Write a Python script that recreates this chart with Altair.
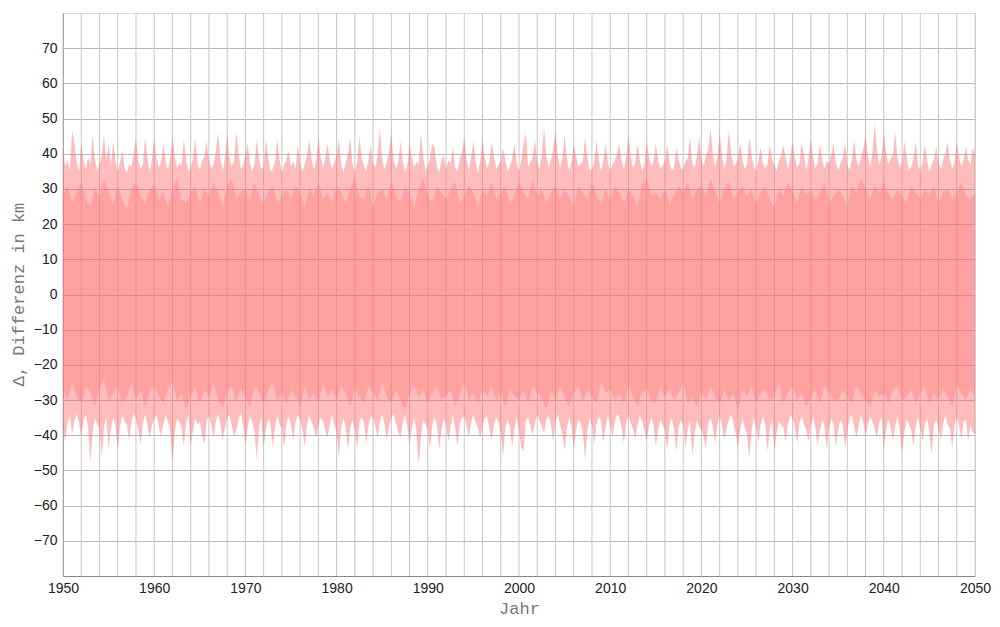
import altair as alt
import pandas as pd

START_YEAR = 1950
STEP = 0.25
INNER_STEP = 0.5

# Upper envelope of the curve (km), read per quarter year, one row per 5 years 1950..2049, then 2050
upper = [
    41.6, 36.5, 38.2, 35.0,  46.7, 43.0, 37.5, 34.8,  43.3, 38.0, 35.5, 39.0,  36.8, 45.2, 38.5, 35.2,  37.0, 39.5, 45.2, 37.8,
    43.0, 36.5, 43.5, 38.0,  35.0, 37.5, 40.7, 36.0,  34.5, 37.0, 36.2, 40.0,  44.5, 38.0, 35.5, 37.0,  44.5, 39.0, 34.8, 38.2,
    44.5, 38.6, 36.0, 37.5,  43.0, 37.8, 35.3, 38.8,  45.0, 39.2, 35.8, 37.4,  36.6, 44.3, 38.0, 35.0,  36.0, 38.4, 44.3, 37.2,
    35.4, 37.8, 39.0, 43.7,  38.2, 35.9, 37.0, 40.5,  45.9, 39.0, 35.2, 38.5,  45.6, 38.8, 36.4, 37.8,  46.2, 40.0, 35.6, 36.8,
    39.5, 43.0, 37.4, 34.9,  37.0, 44.3, 38.2, 35.5,  36.4, 44.3, 39.0, 34.8,  35.8, 37.6, 44.0, 38.1,  34.6, 37.0, 38.4, 40.7,
    36.2, 38.0, 35.5, 42.6,  37.4, 35.0, 36.8, 39.5,  44.3, 38.6, 35.4, 37.9,  44.3, 39.2, 36.0, 38.3,  42.8, 38.0, 35.5, 37.5,
    39.6, 44.0, 37.2, 34.7,  37.5, 40.0, 44.3, 37.0,  35.2, 37.4, 45.0, 38.8,  36.4, 35.0, 38.6, 42.4,  37.2, 36.1, 39.5, 47.3,
    38.0, 35.4, 37.7, 40.2,  45.9, 38.4, 35.8, 37.2,  43.7, 37.8, 35.0, 36.9,  42.8, 38.9, 36.2, 37.6,  37.0, 45.6, 39.0, 35.2,
    36.5, 38.8, 43.0, 41.6,  36.0, 34.8, 38.2, 39.5,  35.6, 38.0, 37.4, 41.8,  36.2, 34.9, 38.5, 40.3,  44.7, 38.2, 35.3, 38.9,
    43.7, 37.6, 34.6, 38.0,  44.0, 38.7, 36.0, 37.3,  43.3, 39.4, 35.5, 36.8,  37.9, 41.6, 38.3, 35.1,  36.4, 38.6, 43.0, 37.0,
    35.0, 38.2, 42.8, 45.9,  36.2, 37.5, 39.0, 44.0,  37.8, 35.5, 39.6, 47.5,  39.4, 36.0, 38.2, 41.0,  46.6, 39.5, 36.1, 38.5,
    45.4, 38.8, 35.0, 37.6,  42.6, 39.3, 36.4, 37.1,  38.0, 44.7, 38.6, 35.3,  35.8, 37.5, 43.7, 38.3,  34.9, 38.1, 43.0, 37.5,
    35.4, 36.8, 38.0, 40.1,  42.6, 38.0, 35.6, 38.8,  45.4, 39.2, 36.0, 37.4,  43.0, 38.3, 35.1, 37.0,  43.5, 39.0, 36.5, 37.6,
    42.8, 38.4, 35.8, 36.6,  38.0, 42.6, 37.7, 35.2,  36.1, 41.6, 38.5, 35.9,  35.6, 37.9, 38.6, 45.0,  37.1, 36.0, 39.0, 45.2,
    38.5, 36.4, 39.5, 41.0,  47.3, 40.0, 36.2, 38.9,  46.2, 39.6, 35.7, 38.1,  46.6, 40.4, 36.6, 37.0,  38.2, 43.3, 38.0, 35.5,
    37.0, 44.7, 39.5, 36.0,  35.3, 38.0, 41.8, 37.2,  35.9, 37.1, 42.8, 38.4,  36.6, 35.2, 38.0, 39.4,  42.4, 38.5, 35.4, 39.0,
    43.5, 38.8, 36.0, 37.2,  43.3, 39.4, 35.2, 38.7,  44.3, 38.9, 35.9, 37.4,  42.8, 38.1, 35.6, 37.9,  37.3, 39.8, 43.0, 37.5,
    35.0, 37.4, 38.8, 43.0,  36.8, 35.4, 38.2, 44.0,  38.4, 36.2, 39.0, 41.2,  45.4, 39.7, 36.0, 40.2,  48.5, 41.0, 36.8, 39.4,
    45.9, 40.6, 37.0, 38.5,  39.8, 46.4, 38.8, 35.9,  37.6, 43.5, 39.2, 35.4,  36.3, 38.4, 43.5, 37.0,  35.2, 37.8, 42.6, 38.0,
    34.8, 36.9, 38.5, 42.0,  37.5, 35.6, 38.3, 40.0,  43.3, 38.1, 35.8, 37.4,  43.7, 39.0, 36.4, 38.2,  42.0, 38.4, 36.9, 41.8,
    39.5,
]

# Lower envelope of the curve (km), per quarter year
lower = [
    -38.5, -41.8, -36.2, -34.5,  -39.7, -35.8, -33.9, -36.4,  -40.4, -36.0, -34.2, -37.5,  -47.9, -39.0, -35.0, -36.8,  -38.2, -46.3, -37.5, -34.6,
    -43.7, -38.0, -35.1, -37.2,  -43.9, -37.6, -34.3, -36.0,  -37.0, -41.3, -36.5, -33.8,  -35.5, -38.4, -42.5, -36.6,  -34.2, -36.9, -40.8, -37.1,
    -35.6, -34.1, -37.3, -40.4,  -36.8, -34.4, -35.9, -38.6,  -47.9, -39.2, -35.3, -36.1,  -37.8, -43.2, -36.7, -34.0,  -43.5, -38.5, -35.2, -36.9,
    -36.3, -39.8, -42.7, -35.7,  -34.6, -37.0, -40.8, -36.2,  -33.9, -36.5, -41.3, -38.0,  -35.0, -34.2, -37.1, -40.4,  -38.5, -35.6, -33.8, -37.0,
    -42.7, -37.9, -34.5, -36.3,  -39.0, -47.0, -37.2, -35.0,  -43.5, -38.3, -35.4, -36.6,  -43.7, -37.7, -34.6, -36.8,  -38.1, -43.5, -36.4, -34.9,
    -37.0, -41.3, -36.0, -34.1,  -35.8, -38.2, -43.2, -37.0,  -34.4, -36.2, -37.8, -40.8,  -37.2, -34.9, -36.0, -38.5,  -40.8, -37.0, -34.3, -36.9,
    -39.4, -46.3, -37.8, -35.2,  -37.6, -44.2, -38.0, -35.6,  -38.8, -43.9, -36.4, -34.8,  -36.2, -42.3, -37.0, -34.5,  -35.3, -37.4, -40.8, -36.0,
    -34.0, -36.8, -41.3, -37.3,  -35.1, -33.9, -36.5, -38.9,  -40.8, -36.6, -34.4, -37.4,  -42.7, -37.9, -35.0, -38.6,  -48.6, -40.2, -35.7, -37.0,
    -38.5, -43.7, -37.0, -34.8,  -37.1, -43.9, -38.3, -35.3,  -36.7, -41.8, -37.5, -34.2,  -38.0, -43.2, -36.9, -35.0,  -34.7, -37.2, -40.8, -36.3,
    -34.1, -36.5, -38.0, -40.8,  -37.4, -35.1, -34.6, -37.8,  -41.3, -37.0, -34.9, -36.2,  -39.3, -46.0, -37.8, -35.4,  -37.6, -43.2, -38.0, -34.8,
    -38.9, -43.5, -44.6, -36.0,  -34.7, -37.2, -40.0, -36.5,  -34.0, -35.8, -37.4, -39.5,  -35.5, -34.6, -37.0, -41.8,  -36.2, -34.0, -37.0, -39.6,
    -44.2, -38.0, -35.1, -37.3,  -43.7, -38.6, -35.5, -36.4,  -39.0, -47.0, -38.4, -35.2,  -37.5, -42.5, -37.0, -34.6,  -36.0, -41.8, -37.6, -34.3,
    -37.1, -40.4, -36.4, -33.9,  -35.0, -37.8, -42.3, -36.8,  -34.2, -36.6, -38.2, -40.8,  -36.9, -34.5, -36.0, -38.4,  -41.8, -37.4, -34.8, -36.9,
    -43.2, -38.5, -35.6, -37.0,  -38.6, -44.2, -37.4, -35.1,  -38.0, -44.4, -37.9, -35.7,  -37.3, -43.7, -38.2, -36.0,  -46.0, -39.4, -35.8, -37.6,
    -38.4, -40.6, -43.7, -36.7,  -35.0, -37.6, -42.3, -37.1,  -34.6, -36.8, -41.3, -38.0,  -35.8, -34.0, -36.6, -39.5,  -43.7, -38.3, -35.4, -37.8,
    -39.6, -46.5, -38.5, -35.3,  -38.0, -41.8, -36.8, -34.7,  -37.0, -44.6, -38.1, -35.5,  -44.4, -39.3, -36.0, -37.1,  -37.8, -41.8, -36.7, -34.2,
    -35.4, -37.9, -42.3, -36.5,  -34.7, -36.9, -38.6, -41.8,  -37.2, -35.0, -38.1, -42.7,  -38.5, -35.6, -37.4, -44.2,  -37.8, -35.3, -36.9, -43.2,
    -38.4, -35.7, -37.0, -43.7,  -39.2, -35.0, -34.4, -37.6,  -40.8, -36.9, -34.3, -36.5,  -40.4, -37.0, -34.6, -36.1,  -38.2, -40.7, -36.4, -34.9,
    -43.7, -38.5, -35.5, -37.7,  -41.8, -37.3, -34.6, -38.4,  -45.1, -39.2, -35.4, -36.8,  -38.4, -43.2, -37.1, -34.8,  -37.9, -41.8, -37.0, -35.3,
    -39.1, -45.6, -37.0, -35.6,  -38.2, -41.3, -36.5, -34.5,  -36.9, -38.0, -43.7, -37.3,  -34.8, -37.2, -41.3, -36.0,  -35.6, -41.6, -37.3, -38.9,
    -39.8,
]

# Edges of the denser (darker) core, per half year
inner_upper = [
    28, 31, 26, 29, 32, 27, 25, 30, 28, 33,  29, 26, 31, 27, 24, 30, 32, 28, 26, 30,
    31, 27, 29, 25, 30, 33, 27, 26, 29, 31,  26, 30, 28, 32, 29, 25, 31, 33, 27, 29,
    30, 27, 32, 28, 26, 29, 31, 26, 28, 30,  27, 31, 29, 25, 30, 28, 32, 27, 29, 26,
    31, 29, 26, 30, 33, 28, 27, 31, 25, 29,  30, 27, 32, 28, 26, 31, 29, 25, 30, 33,
    28, 26, 31, 29, 27, 30, 32, 26, 28, 31,  29, 25, 30, 28, 32, 27, 29, 31, 26, 28,
    32, 29, 27, 33, 28, 30, 26, 29, 31, 27,  30, 28, 25, 31, 29, 27, 32, 28, 26, 30,
    27, 31, 29, 26, 30, 28, 25, 31, 33, 28,  29, 27, 30, 26, 28, 31, 29, 32, 27, 30,
    31, 28, 33, 29, 26, 30, 32, 27, 29, 31,  28, 30, 26, 29, 31, 27, 25, 30, 28, 32,
    29, 26, 31, 28, 30, 27, 29, 32, 26, 28,  30, 28, 25, 31, 29, 33, 30, 27, 31, 29,
    32, 29, 27, 30, 28, 26, 31, 29, 27, 30,  28, 31, 26, 29, 30, 27, 29, 32, 28, 27,
    29,
]
inner_lower = [
    -27, -30, -25, -29, -31, -26, -28, -32, -27, -24,  -30, -28, -26, -31, -29, -25, -30, -27, -32, -28,
    -26, -29, -31, -27, -25, -30, -28, -33, -29, -26,  -31, -27, -29, -25, -30, -32, -28, -26, -30, -27,
    -29, -32, -26, -28, -31, -27, -25, -30, -28, -31,  -27, -29, -32, -26, -30, -28, -31, -25, -29, -27,
    -30, -26, -28, -32, -27, -29, -31, -26, -28, -30,  -25, -29, -31, -27, -30, -33, -28, -26, -29, -27,
    -31, -28, -26, -30, -29, -27, -32, -28, -25, -30,  -28, -31, -27, -29, -26, -30, -28, -32, -27, -29,
    -30, -27, -31, -26, -28, -29, -33, -27, -30, -26,  -29, -32, -28, -26, -30, -27, -29, -31, -25, -28,
    -27, -30, -28, -31, -26, -29, -32, -28, -27, -30,  -31, -26, -29, -27, -30, -28, -25, -31, -29, -32,
    -28, -30, -26, -29, -31, -27, -30, -28, -33, -27,  -29, -26, -31, -28, -27, -30, -29, -25, -31, -28,
    -26, -30, -28, -32, -29, -27, -31, -26, -28, -30,  -30, -27, -29, -31, -26, -28, -30, -32, -27, -29,
    -28, -31, -27, -26, -30, -29, -27, -31, -28, -26,  -31, -28, -30, -27, -29, -32, -26, -28, -30, -27,
    -29,
]

x_grid = list(range(1950, 2051, 2))
x_labels = list(range(1950, 2051, 10))
y_ticks = list(range(-70, 71, 10))

outer = pd.DataFrame({
    "year": [START_YEAR + STEP * i for i in range(len(upper))],
    "upper": upper,
    "lower": lower,
})
inner = pd.DataFrame({
    "year": [START_YEAR + INNER_STEP * i for i in range(len(inner_upper))],
    "upper": inner_upper,
    "lower": inner_lower,
})
grid_df = pd.DataFrame({"year": x_grid})

FILL = "#ff6b6b"

x_scale = alt.Scale(domain=[1950, 2050], nice=False, zero=False)
y_scale = alt.Scale(domain=[-80, 80], nice=False)

x_axis = alt.Axis(
    values=x_labels,
    format="d",
    title="Jahr",
    titleFont="Liberation Mono",
    titleFontSize=17,
    titleFontWeight="normal",
    titleColor="#777777",
    titleX=456,
    titleY=32,
    titleBaseline="middle",
    titleAlign="center",
    labelFont="Liberation Sans",
    labelFontSize=14,
    labelColor="#222222",
    labelPadding=5,
    labelFlush=False,
    ticks=False,
    grid=False,
    domainColor="#888888",
)

y_axis = alt.Axis(
    values=y_ticks,
    title="Δ, Differenz in km",
    titleFont="Liberation Mono",
    titleFontSize=17,
    titleFontWeight="normal",
    titleColor="#777777",
    titleAngle=-90,
    titleX=-45,
    titleY=281,
    titleAlign="center",
    titleBaseline="middle",
    labelFont="Liberation Sans",
    labelFontSize=14,
    labelColor="#222222",
    labelPadding=6,
    ticks=False,
    grid=True,
    gridColor="#b8b8b8",
    gridWidth=1,
    domainColor="#888888",
)

vgrid = alt.Chart(grid_df).mark_rule(color="#c6c6c6", strokeWidth=1).encode(
    x=alt.X("year:Q", scale=x_scale, axis=x_axis),
)

band_outer = alt.Chart(outer).mark_area(color=FILL, opacity=0.45, interpolate="linear").encode(
    x=alt.X("year:Q", scale=x_scale),
    y=alt.Y("lower:Q", scale=y_scale, axis=y_axis),
    y2="upper:Q",
)
band_inner = alt.Chart(inner).mark_area(color=FILL, opacity=0.32, interpolate="linear").encode(
    x=alt.X("year:Q", scale=x_scale),
    y=alt.Y("lower:Q", scale=y_scale),
    y2="upper:Q",
)

chart = alt.layer(vgrid, band_outer, band_inner).properties(
    width=912,
    height=563,
    autosize=alt.AutoSizeParams(type="none"),
    padding={"left": 55, "top": 5, "right": 17, "bottom": 50},
).configure_view(stroke="#999999", strokeWidth=1).configure(background="white")

chart.save("out.html", embed_options={"renderer": "svg", "actions": False})
